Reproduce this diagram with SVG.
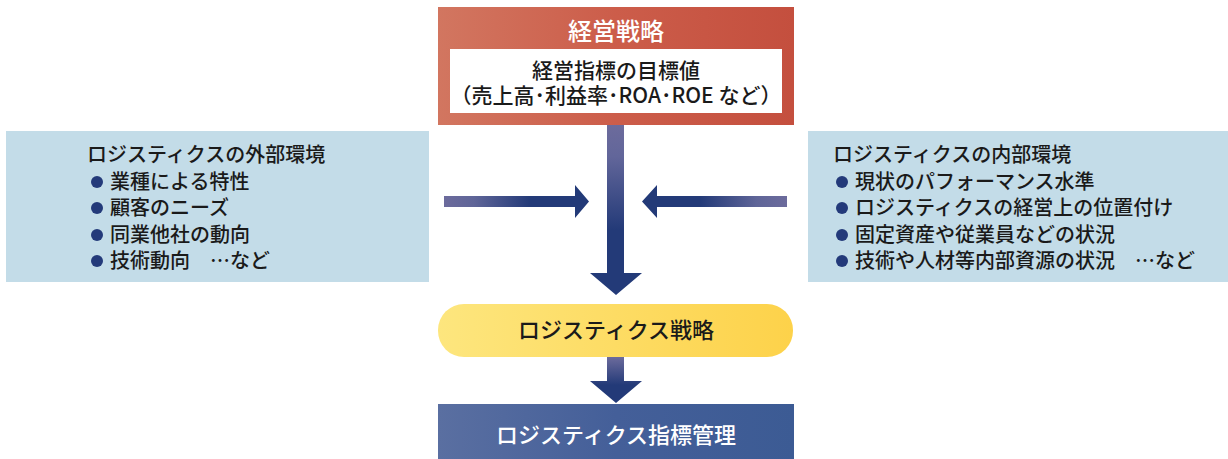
<svg xmlns="http://www.w3.org/2000/svg" width="1228" height="459" viewBox="0 0 1228 459">
<defs>
<linearGradient id="gRed" x1="0" y1="0" x2="1" y2="0"><stop offset="0" stop-color="#d27660"/><stop offset="0.5" stop-color="#cc5d4a"/><stop offset="1" stop-color="#c44f3e"/></linearGradient>
<linearGradient id="gYel" x1="0" y1="0" x2="1" y2="0"><stop offset="0" stop-color="#fde67e"/><stop offset="1" stop-color="#fdd24a"/></linearGradient>
<linearGradient id="gBlue" x1="0" y1="0" x2="1" y2="0"><stop offset="0" stop-color="#5a6fa1"/><stop offset="0.5" stop-color="#445f99"/><stop offset="1" stop-color="#3c5b94"/></linearGradient>
<linearGradient id="gDown" x1="0" y1="125" x2="0" y2="230" gradientUnits="userSpaceOnUse"><stop offset="0" stop-color="#6c6b9c"/><stop offset="0.3" stop-color="#62669a"/><stop offset="1" stop-color="#233a78"/></linearGradient>
<linearGradient id="gDown2" x1="0" y1="357" x2="0" y2="385" gradientUnits="userSpaceOnUse"><stop offset="0" stop-color="#6c6b9c"/><stop offset="1" stop-color="#233a78"/></linearGradient>
<linearGradient id="gLeft" x1="444" y1="0" x2="530" y2="0" gradientUnits="userSpaceOnUse"><stop offset="0" stop-color="#6c6b9c"/><stop offset="0.35" stop-color="#5f6598"/><stop offset="1" stop-color="#233a78"/></linearGradient>
<linearGradient id="gRight" x1="787" y1="0" x2="700" y2="0" gradientUnits="userSpaceOnUse"><stop offset="0" stop-color="#6c6b9c"/><stop offset="0.35" stop-color="#5f6598"/><stop offset="1" stop-color="#233a78"/></linearGradient>
</defs>
<style>
text{font-family:"Noto Sans CJK JP","Noto Sans",sans-serif;font-weight:500}
.w{fill:#ffffff}
.k{fill:#1a1a1a}
.lst{font-size:20px;fill:#1a1a1a}
.bul{fill:#233a7a}
.env{fill:#c3dce8}
</style>
<g id="connectors">
<path d="M607,125 H624 V273 H642 L616,295 L590,273 H607 Z" fill="url(#gDown)"/>
<path d="M444,196 H575 V185 L589,201.5 L575,218 V207 H444 Z" fill="url(#gLeft)"/>
<path d="M787,196 H657 V185 L642,201.5 L657,218 V207 H787 Z" fill="url(#gRight)"/>
<path d="M607,357 H624 V381 H642 L616,403 L590,381 H607 Z" fill="url(#gDown2)"/>
</g>
<g id="management-strategy">
<rect x="438" y="7" width="356" height="118" fill="url(#gRed)"/>
<text x="616" y="40" text-anchor="middle" font-size="24" class="w">経営戦略</text>
<rect x="450" y="49" width="332" height="64" fill="#ffffff"/>
<text x="616" y="78" text-anchor="middle" font-size="21" class="k">経営指標の目標値</text>
<text x="616" y="103" text-anchor="middle" font-size="21" class="k">（売上高･利益率･ROA･ROE など）</text>
</g>
<g id="external-env">
<rect x="6" y="131" width="423" height="151" class="env"/>
<text x="87" y="162" class="lst">ロジスティクスの外部環境</text>
<circle cx="97" cy="182" r="6" class="bul"/><text x="110" y="189" class="lst">業種による特性</text>
<circle cx="97" cy="208" r="6" class="bul"/><text x="110" y="215" class="lst">顧客のニーズ</text>
<circle cx="97" cy="235" r="6" class="bul"/><text x="110" y="242" class="lst">同業他社の動向</text>
<circle cx="97" cy="261" r="6" class="bul"/><text x="110" y="268" class="lst">技術動向　…など</text>
</g>
<g id="internal-env">
<rect x="808" y="131" width="420" height="151" class="env"/>
<text x="833" y="162" class="lst">ロジスティクスの内部環境</text>
<circle cx="842" cy="182" r="6" class="bul"/><text x="855" y="189" class="lst">現状のパフォーマンス水準</text>
<circle cx="842" cy="208" r="6" class="bul"/><text x="855" y="215" class="lst">ロジスティクスの経営上の位置付け</text>
<circle cx="842" cy="235" r="6" class="bul"/><text x="855" y="242" class="lst">固定資産や従業員などの状況</text>
<circle cx="842" cy="261" r="6" class="bul"/><text x="855" y="268" class="lst">技術や人材等内部資源の状況　…など</text>
</g>
<g id="logistics-strategy">
<rect x="438" y="304" width="355" height="53" rx="26" fill="url(#gYel)"/>
<text x="616" y="338" text-anchor="middle" font-size="22" class="k">ロジスティクス戦略</text>
</g>
<g id="logistics-kpi">
<rect x="438" y="404" width="356" height="55" fill="url(#gBlue)"/>
<text x="616" y="443" text-anchor="middle" font-size="22" class="w">ロジスティクス指標管理</text>
</g>
</svg>
